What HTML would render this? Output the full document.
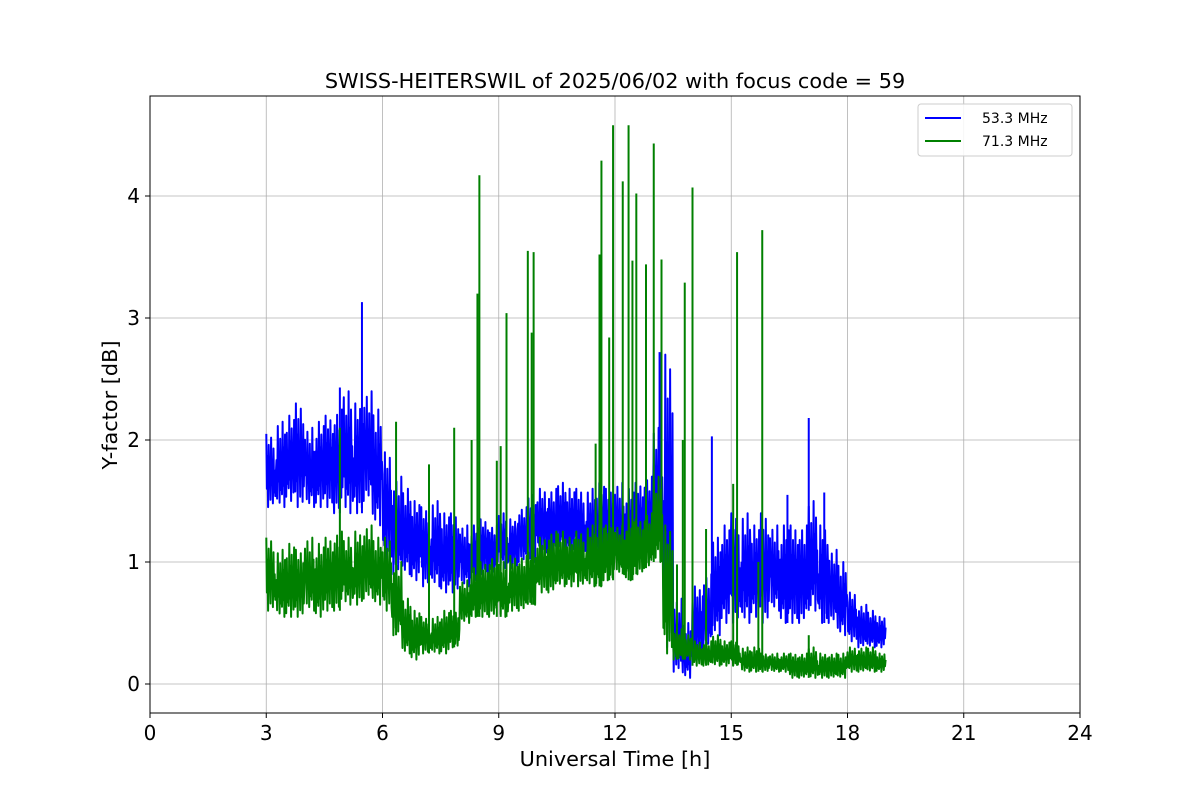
<!DOCTYPE html>
<html><head><meta charset="utf-8"><style>
body{margin:0;background:#fff;}
svg{display:block;font-family:"DejaVu Sans","Liberation Sans",sans-serif;}
</style></head><body>
<svg id="chart" width="1200" height="800"></svg>
<script>
const binStart = 3, binWidth = 0.25;
const blueLo = [1.45,1.45,1.5,1.45,1.45,1.45,1.45,1.4,1.4,1.4,1.5,1.3,1.0,0.9,0.9,0.85,0.8,0.8,0.75,0.75,0.8,0.85,0.9,0.9,0.95,0.95,1.0,1.0,1.05,1.05,1.1,1.05,1.0,1.0,1.0,1.0,1.0,1.0,1.05,1.1,1.2,0.3,0.1,0.05,0.2,0.3,0.4,0.5,0.5,0.5,0.55,0.5,0.6,0.5,0.5,0.5,0.6,0.5,0.5,0.4,0.35,0.3,0.3,0.3];
const blueHi = [2.05,2.15,2.2,2.3,2.1,2.15,2.2,2.25,2.4,2.3,2.4,2.25,1.9,1.7,1.6,1.5,1.45,1.5,1.4,1.4,1.3,1.3,1.35,1.3,1.4,1.35,1.45,1.55,1.6,1.6,1.65,1.6,1.6,1.6,1.65,1.6,1.65,1.6,1.65,1.7,2.1,2.7,0.7,0.5,0.8,0.9,1.2,1.3,1.4,1.4,1.3,1.4,1.3,1.3,1.3,1.3,1.5,1.3,1.1,1.0,0.75,0.65,0.6,0.55];
const blueSpikeT = [4.9,5.47,13.15,14.5,16.45,17.0,17.4];
const blueSpikeV = [2.43,3.13,2.72,2.03,1.55,2.18,1.57];
const greenLo = [0.6,0.55,0.55,0.55,0.6,0.55,0.6,0.6,0.65,0.65,0.7,0.65,0.6,0.4,0.25,0.2,0.25,0.25,0.25,0.3,0.5,0.55,0.55,0.55,0.55,0.6,0.6,0.65,0.75,0.75,0.8,0.8,0.8,0.8,0.8,0.85,0.9,0.85,0.9,0.95,1.0,0.25,0.2,0.2,0.15,0.15,0.15,0.15,0.15,0.1,0.1,0.1,0.1,0.1,0.05,0.05,0.05,0.05,0.05,0.05,0.1,0.1,0.1,0.1];
const greenHi = [1.2,1.1,1.15,1.1,1.2,1.15,1.2,1.25,1.2,1.25,1.3,1.2,1.2,1.0,0.7,0.6,0.55,0.55,0.6,0.6,0.85,0.95,1.0,1.05,1.0,1.05,1.05,1.1,1.2,1.25,1.25,1.2,1.25,1.3,1.3,1.3,1.3,1.35,1.35,1.4,1.7,1.3,0.45,0.4,0.35,0.35,0.4,0.35,0.35,0.3,0.3,0.25,0.25,0.25,0.25,0.25,0.3,0.25,0.25,0.25,0.3,0.3,0.3,0.25];
const greenSpikeT = [4.9,6.35,7.2,7.85,8.3,8.45,8.5,8.95,9.05,9.2,9.75,9.85,9.9,11.5,11.6,11.65,11.85,11.95,12.2,12.35,12.45,12.55,12.8,13.0,13.2,13.6,13.75,13.8,14.0,14.35,15.05,15.15,15.7,15.8,17.0];
const greenSpikeV = [2.1,2.15,1.8,2.1,2.0,3.2,4.17,1.83,1.95,3.04,3.55,2.88,3.54,1.97,3.52,4.29,2.84,4.58,4.12,4.58,3.47,4.02,3.44,4.43,3.48,0.98,2.0,3.29,4.07,1.27,1.64,3.54,1.0,3.72,0.4];
const xTicks = [0,3,6,9,12,15,18,21,24];
const yTicks = [0,1,2,3,4];

const L=150,R=1080,T=96,B=713;
const X = v => L + (v/24)*(R-L);
const Y = v => 684 - v*122;
const svg = document.getElementById('chart');
const NS='http://www.w3.org/2000/svg';
function mk(tag, attrs, parent){const e=document.createElementNS(NS,tag);for(const k in attrs)e.setAttribute(k,attrs[k]);(parent||svg).appendChild(e);return e;}

mk('rect',{x:0,y:0,width:1200,height:800,fill:'#fff'});
const grid = mk('g',{});


xTicks.forEach(t=>{mk('line',{x1:X(t),x2:X(t),y1:T,y2:B,stroke:'#b0b0b0','stroke-width':0.8},grid);});
yTicks.forEach(t=>{mk('line',{x1:L,x2:R,y1:Y(t),y2:Y(t),stroke:'#b0b0b0','stroke-width':0.8},grid);});

// drawing texture (fraction of the bin's range) — styling only
const texture = [1,0.25,0.7,0,0.85,0.4,0.55,0.1,0.95,0.3,0.65,0.05,0.8,0.2,0.5,0.15];

function series(lo,hi,sT,sV,color,name){
  let d='';
  const n=texture.length;
  for(let i=0;i<lo.length;i++){
    const x0=binStart+i*binWidth;
    for(let k=0;k<n;k++){
      const x=x0+k*binWidth/n;
      const f=texture[(k+i*5)%n];
      const v=lo[i]+(hi[i]-lo[i])*f;
      d+=(d?'L':'M')+X(x).toFixed(1)+','+Y(v).toFixed(1);
    }
  }
  const p=mk('path',{d:d,fill:'none',stroke:color,'stroke-width':2,'stroke-linejoin':'round'});
  
  
  sT.forEach((t,j)=>{
    const i=Math.min(lo.length-1,Math.max(0,Math.floor((t-binStart)/binWidth)));
    const s=mk('line',{x1:X(t),x2:X(t),y1:Y(lo[i]),y2:Y(sV[j]),stroke:color,'stroke-width':2});
    
    
  });
}
series(blueLo,blueHi,blueSpikeT,blueSpikeV,'#0000ff','series-53mhz');
series(greenLo,greenHi,greenSpikeT,greenSpikeV,'#008000','series-71mhz');

const frame=mk('rect',{x:L,y:T,width:R-L,height:B-T,fill:'none',stroke:'#000','stroke-width':1});



xTicks.forEach(t=>{
  mk('line',{x1:X(t),x2:X(t),y1:B,y2:B+5,stroke:'#000'});
  const tx=mk('text',{x:X(t),y:B+27,'text-anchor':'middle','font-size':20});
  tx.textContent=t;
  
  
});
yTicks.forEach(t=>{
  mk('line',{x1:L-5,x2:L,y1:Y(t),y2:Y(t),stroke:'#000'});
  const tx=mk('text',{x:L-10,y:Y(t)+7,'text-anchor':'end','font-size':20});
  tx.textContent=t;
  
  
});
</script>
<svg style="position:absolute;left:0;top:0" width="1200" height="800">
<text x="615" y="88" text-anchor="middle" font-size="20.8">SWISS-HEITERSWIL of 2025/06/02 with focus code = 59</text>
<text x="615" y="766" text-anchor="middle" font-size="20.8">Universal Time [h]</text>
<text x="117" y="405" text-anchor="middle" font-size="20.8" transform="rotate(-90 117 405)">Y-factor [dB]</text>
<g>
<rect x="918" y="104" width="154" height="52" rx="3" fill="#fff" fill-opacity="0.85" stroke="#ccc"/>
<g>
<line x1="925" x2="961" y1="118" y2="118" stroke="#0000ff" stroke-width="2"/>
<text x="982" y="123" font-size="14">53.3 MHz</text></g>
<g>
<line x1="925" x2="961" y1="141" y2="141" stroke="#008000" stroke-width="2"/>
<text x="982" y="146" font-size="14">71.3 MHz</text></g>
</g>
</svg>
</body></html>
